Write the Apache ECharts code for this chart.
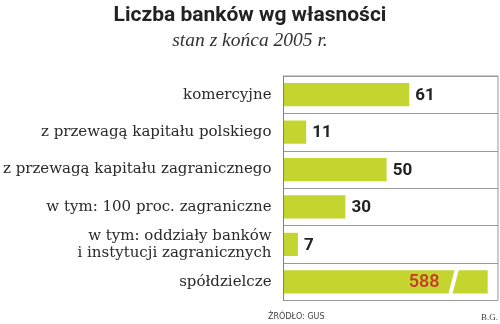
<!DOCTYPE html>
<html>
<head>
<meta charset="utf-8">
<script src="https://cdn.jsdelivr.net/npm/echarts@6/dist/echarts.min.js"></script>
<style>
  html, body { margin: 0; padding: 0; background: #fff; }
  #chart { width: 500px; height: 324px; }
</style>
</head>
<body>
<div id="chart"></div>
<script>
// Liczba banków według struktury własności, stan na koniec 2005 r.
const categories = [
  'komercyjne',
  'z przewagą kapitału polskiego',
  'z przewagą kapitału zagranicznego',
  'w tym: 100 proc. zagraniczne',
  'w tym: oddziały banków\ni instytucji zagranicznych',
  'spółdzielcze'
];
const values = [61, 11, 50, 30, 7, 588];

// Przerwana oś wartości, żeby długi słupek zmieścił się obok krótkich
const axisBreak = { start: 80, end: 571, gap: 2 };

const barColor = '#c5d530';
const lineColor = '#999999';

const chart = echarts.init(document.getElementById('chart'), null, { renderer: 'canvas' });

function renderBar(params, api) {
  const v = api.value(0);
  const c = api.value(1);
  const p0 = api.coord([0, c]);
  const p1 = api.coord([v, c]);
  const band = api.size([0, 1])[1];
  const h = band * 0.62;
  const top = p0[1] - h / 2;
  const bot = p0[1] + h / 2;
  const x0 = p0[0] + 0.5;
  const x1 = p1[0];
  const children = [];
  const style = api.style({ fill: barColor, stroke: null });

  if (v > axisBreak.end) {
    // słupek z ukośnym przecięciem w miejscu przerwy osi
    const xs = api.coord([axisBreak.start, c])[0];
    const xe = api.coord([axisBreak.end, c])[0];
    const shear = 6;
    children.push({
      type: 'polygon',
      shape: { points: [[x0, top], [xs + shear, top], [xs, bot], [x0, bot]] },
      style: style
    });
    children.push({
      type: 'polygon',
      shape: { points: [[xe + shear, top], [x1, top], [x1, bot], [xe, bot]] },
      style: style
    });
    children.push({
      type: 'text',
      style: {
        text: String(v),
        x: xs - 9,
        y: p0[1] + 1,
        align: 'right',
        verticalAlign: 'middle',
        fill: '#c8352a',
        font: '500 18px Roboto'
      }
    });
  } else {
    children.push({
      type: 'rect',
      shape: { x: x0, y: top, width: x1 - x0, height: h },
      style: style
    });
    children.push({
      type: 'text',
      style: {
        text: String(v),
        x: x1 + 6,
        y: p0[1] + 1,
        align: 'left',
        verticalAlign: 'middle',
        fill: '#222',
        font: 'bold 17px Roboto'
      }
    });
  }
  return { type: 'group', children: children };
}

chart.setOption({
  animation: false,
  backgroundColor: '#fff',
  title: [
    {
      text: 'Liczba banków wg własności',
      left: 'center',
      top: 5,
      padding: 0,
      textStyle: { fontFamily: 'Roboto', fontWeight: 'bold', fontSize: 21, color: '#222' }
    },
    {
      text: 'stan z końca 2005 r.',
      left: 'center',
      top: 31,
      padding: 0,
      textStyle: { fontFamily: 'Liberation Serif', fontStyle: 'italic', fontWeight: 'normal', fontSize: 19.5, color: '#333' }
    },
    {
      text: 'ŹRÓDŁO: GUS',
      left: 268,
      top: 313,
      padding: 0,
      textStyle: { fontFamily: 'DejaVu Sans', fontWeight: 'normal', fontSize: 8, color: '#444' }
    },
    {
      text: 'B.G.',
      right: 2,
      top: 313,
      padding: 0,
      textStyle: { fontFamily: 'Liberation Serif', fontWeight: 'normal', fontSize: 9, color: '#444' }
    }
  ],
  grid: {
    left: 282,
    right: 2,
    top: 76,
    bottom: 23.5,
    show: true,
    borderColor: lineColor,
    borderWidth: 1,
    backgroundColor: 'transparent'
  },
  xAxis: {
    type: 'value',
    min: 0,
    max: 593,
    breaks: [axisBreak],
    breakArea: { show: false },
    axisLine: { show: false },
    axisTick: { show: false },
    axisLabel: { show: false },
    splitLine: { show: false }
  },
  yAxis: {
    type: 'category',
    data: categories,
    inverse: true,
    axisLine: { show: true, lineStyle: { color: '#808080', width: 1 } },
    axisTick: { show: false },
    splitLine: { show: true, lineStyle: { color: lineColor, width: 1 } },
    axisLabel: {
      margin: 12,
      fontFamily: 'DejaVu Serif',
      fontSize: 15,
      lineHeight: 16.5,
      color: '#2a2a2a',
      align: 'right'
    }
  },
  series: [
    {
      type: 'custom',
      renderItem: renderBar,
      encode: { x: 0, y: 1 },
      data: values.map((v, i) => [v, i]),
      z: 3
    }
  ]
});
</script>
</body>
</html>
